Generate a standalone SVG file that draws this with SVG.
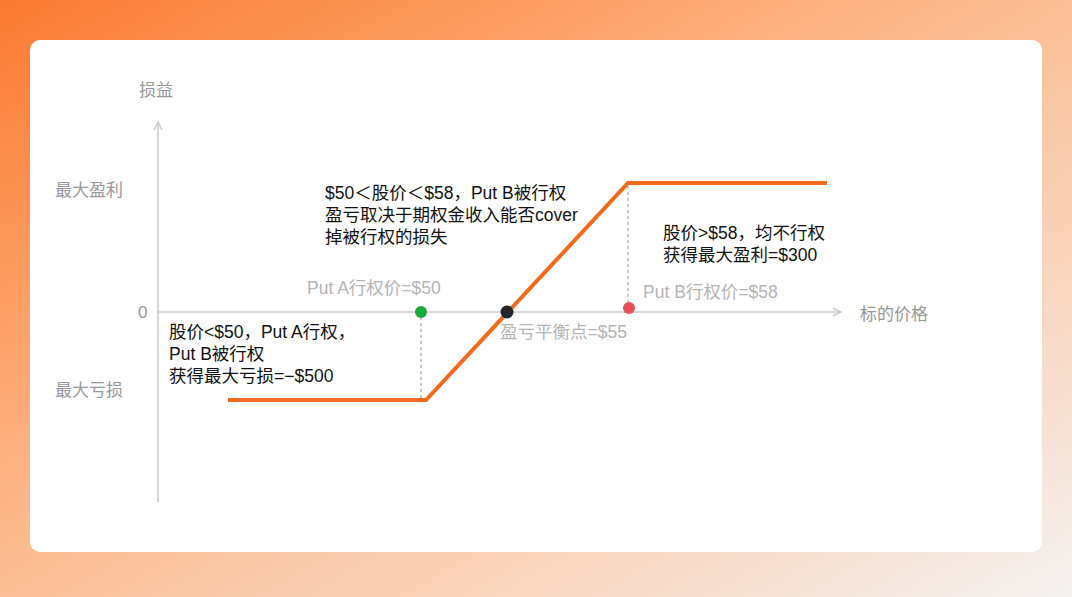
<svg xmlns="http://www.w3.org/2000/svg" width="1072" height="597" viewBox="0 0 1072 597">
<defs>
<linearGradient id="bg" x1="0" y1="0" x2="1" y2="1">
<stop offset="0" stop-color="#fb7a30"/><stop offset="0.45" stop-color="#fcb98c"/><stop offset="1" stop-color="#f4f1f0"/>
</linearGradient>
<marker id="ar" viewBox="0 0 10 10" refX="9" refY="5" markerWidth="10" markerHeight="10" markerUnits="userSpaceOnUse" orient="auto"><path d="M1,1 L9,5 L1,9" fill="none" stroke="#cccccc" stroke-width="1.5"/></marker>
<style>
text{font-family:"Liberation Sans","Noto Sans CJK SC",sans-serif}
.g{fill:#999;font-size:17px}.l{fill:#b5b5b5;font-size:17.5px}.b{fill:#111;font-size:17.5px}
.ax{stroke:#cccccc;stroke-width:1.6;fill:none}
.dot{stroke:#aaa;stroke-width:1.3;stroke-dasharray:3 3}
</style>
</defs>
<rect width="1072" height="597" fill="url(#bg)"/>
<rect x="30" y="40" width="1012" height="512" rx="10" fill="#fff"/>
<g id="connectors">
<line class="ax" x1="158" y1="502" x2="158" y2="122" marker-end="url(#ar)"/>
<line class="ax" x1="158" y1="312" x2="841" y2="312" marker-end="url(#ar)"/>
<line class="dot" x1="421" y1="317" x2="421" y2="398"/>
<line class="dot" x1="628" y1="186" x2="628" y2="302"/>
<polyline points="228,400 426,400 628,183 827,183" fill="none" stroke="#f26a1b" stroke-width="4"/>
</g>
<g id="labels">
<text class="g" x="139" y="96">损益</text>
<text class="g" x="55" y="196">最大盈利</text>
<text class="g" x="138" y="318">0</text>
<text class="g" x="55" y="396">最大亏损</text>
<text class="g" x="860" y="320">标的价格</text>
</g>
<g id="nodeA"><circle cx="421" cy="312" r="6" fill="#1aaa3a"/><text class="l" x="307" y="294">Put A行权价=$50</text></g>
<g id="nodeBE"><circle cx="507" cy="312" r="6.5" fill="#22252b"/><text class="l" x="500" y="338">盈亏平衡点=$55</text></g>
<g id="nodeB"><circle cx="629" cy="308" r="6" fill="#e5505a"/><text class="l" x="643" y="298">Put B行权价=$58</text></g>
<g id="noteMid"><text class="b" x="325" y="199">$50＜股价＜$58，Put B被行权</text><text class="b" x="325" y="221">盈亏取决于期权金收入能否cover</text><text class="b" x="325" y="243">掉被行权的损失</text></g>
<g id="noteLow"><text class="b" x="169" y="338">股价&lt;$50，Put A行权，</text><text class="b" x="169" y="360">Put B被行权</text><text class="b" x="169" y="382">获得最大亏损=−$500</text></g>
<g id="noteHigh"><text class="b" x="663" y="239">股价&gt;$58，均不行权</text><text class="b" x="663" y="261">获得最大盈利=$300</text></g>
</svg>
